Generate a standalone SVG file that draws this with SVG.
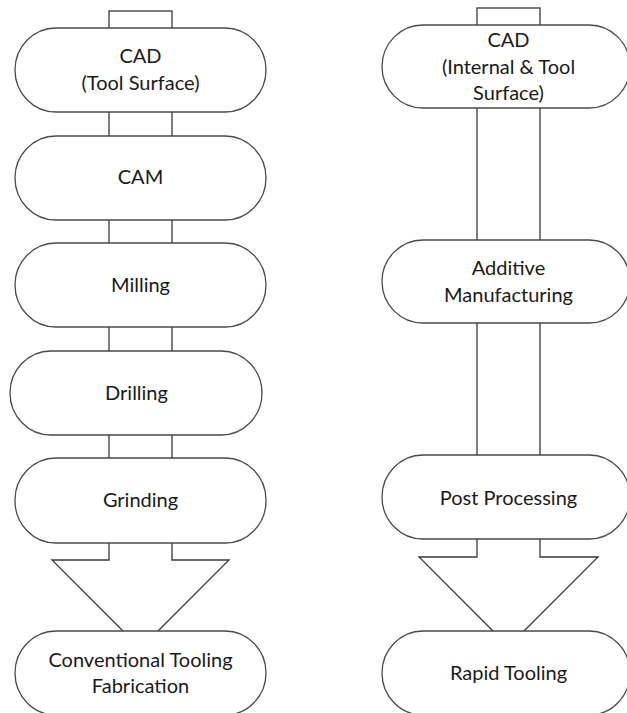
<svg xmlns="http://www.w3.org/2000/svg" width="627" height="713" viewBox="0 0 627 713">
  <style>
    .node { fill: #ffffff; stroke: #4a4a4a; stroke-width: 1.3; }
    .link { fill: #ffffff; stroke: #3a3a3a; stroke-width: 1.3; stroke-linejoin: miter; }
    .label { font-family: Lato, "Open Sans", "Liberation Sans", sans-serif; font-size: 20px; fill: #1a1a1a; text-anchor: middle; }
  </style>
  <rect width="627" height="713" fill="#ffffff"/>

  <!-- connectors: shafts between steps and the two wide arrows -->
  <g id="connectors">
    <rect class="link" x="109" y="11" width="63" height="20"/>
    <rect class="link" x="109" y="110" width="63" height="28"/>
    <rect class="link" x="109" y="218" width="63" height="27"/>
    <rect class="link" x="109" y="325" width="63" height="28"/>
    <rect class="link" x="109" y="433" width="63" height="27"/>
    <path class="link" d="M109,541 V560 H52 L140.5,648.5 L229,560 H172 V541"/>

    <rect class="link" x="477" y="8" width="63" height="20"/>
    <rect class="link" x="477" y="106" width="63" height="136"/>
    <rect class="link" x="477" y="321" width="63" height="136"/>
    <path class="link" d="M477,537 V557 H419 L508.5,646.5 L598,557 H540 V537"/>
  </g>

  <!-- conventional route -->
  <g id="cad-tool-surface">
    <rect class="node" x="15" y="28" width="251" height="84" rx="41" ry="42"/>
    <text class="label" x="140.5" y="63">CAD</text>
    <text class="label" x="140.5" y="90">(Tool Surface)</text>
  </g>
  <g id="cam">
    <rect class="node" x="15" y="136" width="251" height="84" rx="41" ry="42"/>
    <text class="label" x="140.5" y="184">CAM</text>
  </g>
  <g id="milling">
    <rect class="node" x="15" y="243" width="251" height="84" rx="41" ry="42"/>
    <text class="label" x="140.5" y="292">Milling</text>
  </g>
  <g id="drilling">
    <rect class="node" x="10" y="351" width="252" height="84" rx="41" ry="42"/>
    <text class="label" x="136.5" y="400">Drilling</text>
  </g>
  <g id="grinding">
    <rect class="node" x="15" y="458" width="251" height="85" rx="41" ry="42"/>
    <text class="label" x="140.5" y="507">Grinding</text>
  </g>
  <g id="conventional-tooling">
    <rect class="node" x="15" y="631" width="251" height="84" rx="41" ry="42"/>
    <text class="label" x="140.5" y="667">Conventional Tooling</text>
    <text class="label" x="140.5" y="693">Fabrication</text>
  </g>

  <!-- additive route -->
  <g id="cad-internal-tool-surface">
    <rect class="node" x="382" y="25" width="248" height="83" rx="41" ry="42"/>
    <text class="label" x="508.5" y="47">CAD</text>
    <text class="label" x="508.5" y="74">(Internal &amp; Tool</text>
    <text class="label" x="508.5" y="100">Surface)</text>
  </g>
  <g id="additive-manufacturing">
    <rect class="node" x="382" y="240" width="248" height="83" rx="41" ry="42"/>
    <text class="label" x="508.5" y="275">Additive</text>
    <text class="label" x="508.5" y="302">Manufacturing</text>
  </g>
  <g id="post-processing">
    <rect class="node" x="382" y="455" width="248" height="84" rx="41" ry="42"/>
    <text class="label" x="508.5" y="505">Post Processing</text>
  </g>
  <g id="rapid-tooling">
    <rect class="node" x="382" y="631" width="248" height="84" rx="41" ry="42"/>
    <text class="label" x="508.5" y="680">Rapid Tooling</text>
  </g>
</svg>
